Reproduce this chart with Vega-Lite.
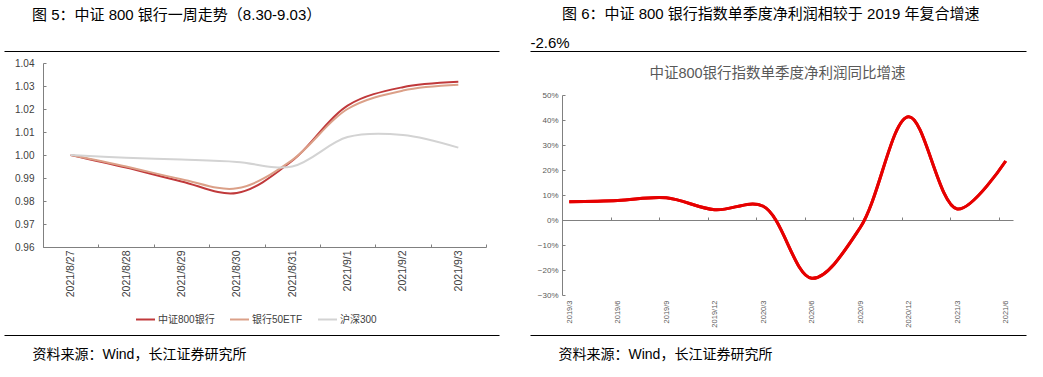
{
  "$schema": "https://vega.github.io/schema/vega-lite/v6.json",
  "background": "white",
  "padding": {"left": -2, "top": 6, "right": 0, "bottom": 0},
  "config": {
    "font": "Liberation Sans, Noto Sans CJK SC",
    "view": {"stroke": null},
    "concat": {"spacing": 29}
  },
  "datasets": {
    "weekly": [
      {"date": "2021/8/27", "series": "中证800银行", "value": 1.0},
      {"date": "2021/8/28", "series": "中证800银行", "value": 0.9945},
      {"date": "2021/8/29", "series": "中证800银行", "value": 0.9885},
      {"date": "2021/8/30", "series": "中证800银行", "value": 0.9835},
      {"date": "2021/8/31", "series": "中证800银行", "value": 0.9975},
      {"date": "2021/9/1", "series": "中证800银行", "value": 1.0215},
      {"date": "2021/9/2", "series": "中证800银行", "value": 1.0295},
      {"date": "2021/9/3", "series": "中证800银行", "value": 1.0318},
      {"date": "2021/8/27", "series": "银行50ETF", "value": 1.0},
      {"date": "2021/8/28", "series": "银行50ETF", "value": 0.995},
      {"date": "2021/8/29", "series": "银行50ETF", "value": 0.9895},
      {"date": "2021/8/30", "series": "银行50ETF", "value": 0.9855},
      {"date": "2021/8/31", "series": "银行50ETF", "value": 0.9978},
      {"date": "2021/9/1", "series": "银行50ETF", "value": 1.02},
      {"date": "2021/9/2", "series": "银行50ETF", "value": 1.028},
      {"date": "2021/9/3", "series": "银行50ETF", "value": 1.0305},
      {"date": "2021/8/27", "series": "沪深300", "value": 1.0},
      {"date": "2021/8/28", "series": "沪深300", "value": 0.9988},
      {"date": "2021/8/29", "series": "沪深300", "value": 0.998},
      {"date": "2021/8/30", "series": "沪深300", "value": 0.997},
      {"date": "2021/8/31", "series": "沪深300", "value": 0.995},
      {"date": "2021/9/1", "series": "沪深300", "value": 1.0078},
      {"date": "2021/9/2", "series": "沪深300", "value": 1.0087},
      {"date": "2021/9/3", "series": "沪深300", "value": 1.0032}
    ],
    "quarterly": [
      {"q": "2019/3", "g": 0.073},
      {"q": "2019/6", "g": 0.078},
      {"q": "2019/9", "g": 0.089},
      {"q": "2019/12", "g": 0.041},
      {"q": "2020/3", "g": 0.055},
      {"q": "2020/6", "g": -0.233},
      {"q": "2020/9", "g": -0.03},
      {"q": "2020/12", "g": 0.413},
      {"q": "2021/3", "g": 0.044},
      {"q": "2021/6", "g": 0.236}
    ]
  },
  "hconcat": [
    {
      "width": 495,
      "height": 284,
      "view": {"stroke": "#000000", "strokeWidth": 1, "strokeDash": [495, 284]},
      "title": {
        "text": "图 5：中证 800 银行一周走势（8.30-9.03）",
        "anchor": "start",
        "dx": 33,
        "fontSize": 15,
        "fontWeight": "normal",
        "color": "#000000",
        "baseline": "bottom",
        "offset": 13
      },
      "data": {"name": "weekly"},
      "mark": {"type": "line", "interpolate": "catmull-rom", "strokeWidth": 2},
      "encoding": {
        "x": {
          "field": "date",
          "type": "ordinal",
          "sort": null,
          "scale": {"type": "band", "range": [39, 482], "paddingInner": 0, "paddingOuter": 0},
          "axis": {
            "title": "资料来源：Wind，长江证券研究所",
            "titleX": 28,
            "titleY": 111,
            "titleAlign": "left",
            "titleBaseline": "alphabetic",
            "titleAngle": 0,
            "titleFontSize": 14,
            "titleFontWeight": "normal",
            "titleColor": "#000000",
            "labelAngle": -90,
            "labelFontSize": 10.5,
            "labelColor": "#404040",
            "labelPadding": 6,
            "domainColor": "#808080",
            "tickColor": "#808080",
            "tickSize": -3,
            "tickBand": "extent",
            "offset": -88,
            "grid": false
          }
        },
        "y": {
          "field": "value",
          "type": "quantitative",
          "scale": {"domain": [0.96, 1.04], "range": [196, 12], "zero": false, "nice": false},
          "axis": {
            "title": null,
            "values": [0.96, 0.97, 0.98, 0.99, 1.0, 1.01, 1.02, 1.03, 1.04],
            "format": ".2f",
            "offset": -39,
            "labelFontSize": 10,
            "labelColor": "#404040",
            "labelPadding": 12,
            "domainColor": "#808080",
            "tickColor": "#808080",
            "tickSize": -3,
            "grid": false
          }
        },
        "color": {
          "field": "series",
          "type": "nominal",
          "scale": {"domain": ["中证800银行", "银行50ETF", "沪深300"], "range": ["#C0393B", "#DBA088", "#D3D3D3"]},
          "legend": {
            "title": null,
            "orient": "none",
            "legendX": 131,
            "legendY": 258,
            "direction": "horizontal",
            "gridAlign": "none",
            "symbolType": "stroke",
            "symbolSize": 360,
            "symbolStrokeWidth": 2,
            "labelFontSize": 10,
            "labelColor": "#404040",
            "labelOffset": 2,
            "columnPadding": 11,
            "padding": 0
          }
        }
      }
    },
    {
      "width": 496,
      "height": 284,
      "view": {"stroke": "#000000", "strokeWidth": 1, "strokeDash": [496, 284]},
      "title": {
        "text": "图 6：中证 800 银行指数单季度净利润相较于 2019 年复合增速",
        "anchor": "start",
        "dx": 32,
        "fontSize": 15,
        "fontWeight": "normal",
        "color": "#000000",
        "baseline": "bottom",
        "offset": -2
      },
      "data": {"name": "quarterly"},
      "encoding": {
        "x": {
          "field": "q",
          "type": "ordinal",
          "sort": null,
          "scale": {"type": "point", "range": [32, 483], "padding": 0.15},
          "axis": {
            "title": "资料来源：Wind，长江证券研究所",
            "titleX": 28,
            "titleY": 138,
            "titleAlign": "left",
            "titleBaseline": "alphabetic",
            "titleAngle": 0,
            "titleFontSize": 14,
            "titleFontWeight": "normal",
            "titleColor": "#000000",
            "labelAngle": -90,
            "labelFontSize": 7.5,
            "labelColor": "#595959",
            "labelPadding": 83,
            "labelOffset": 7,
            "tickOffset": -7,
            "domainColor": "#808080",
            "tickColor": "#808080",
            "tickSize": -3,
            "offset": -115,
            "grid": false
          }
        }
      },
      "layer": [
        {
          "mark": {"type": "line", "interpolate": "catmull-rom", "strokeWidth": 3, "color": "#E60000"},
          "encoding": {
            "y": {
              "field": "g",
              "type": "quantitative",
              "scale": {"domain": [-0.3, 0.5], "range": [244, 44], "zero": false, "nice": false},
              "axis": {
                "title": "中证800银行指数单季度净利润同比增速",
                "titleX": 215,
                "titleY": 22,
                "titleAngle": 0,
                "titleAlign": "center",
                "titleBaseline": "middle",
                "titleFontSize": 14.5,
                "titleFontWeight": "normal",
                "titleColor": "#595959",
                "values": [-0.3, -0.2, -0.1, 0, 0.1, 0.2, 0.3, 0.4, 0.5],
                "format": ".0%",
                "offset": -32,
                "labelFontSize": 8,
                "labelColor": "#595959",
                "labelPadding": 7,
                "domainColor": "#808080",
                "tickColor": "#808080",
                "tickSize": -3,
                "grid": false
              }
            }
          }
        },
        {
          "mark": {"type": "line", "interpolate": "catmull-rom", "strokeWidth": 3, "color": "#E60000"},
          "encoding": {
            "y": {
              "field": "g",
              "type": "quantitative",
              "axis": {
                "orient": "right",
                "title": "-2.6%",
                "titleX": -496,
                "titleY": -9,
                "titleAngle": 0,
                "titleAlign": "left",
                "titleBaseline": "middle",
                "titleFontSize": 15,
                "titleFontWeight": "normal",
                "titleColor": "#000000",
                "labels": false,
                "ticks": false,
                "domain": false,
                "grid": false,
                "minExtent": 0
              }
            }
          }
        }
      ],
      "resolve": {"axis": {"y": "independent"}}
    }
  ]
}
